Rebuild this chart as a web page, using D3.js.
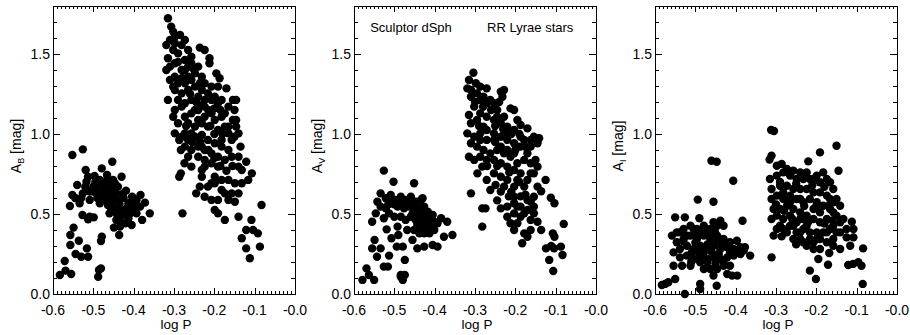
<!doctype html>
<html>
<head>
<meta charset="utf-8">
<title>Sculptor dSph RR Lyrae amplitudes</title>
<script src="https://d3js.org/d3.v7.min.js"></script>
<style>
  body { margin: 0; background: #fff; }
  svg text { font-family: "Liberation Sans", Arial, Helvetica, sans-serif; fill: #000; }
</style>
</head>
<body>
<svg id="chart" width="910" height="335"></svg>
<script>
// [log P, amplitude]
const ampB = [
  [-0.583,0.119],[-0.569,0.146],[-0.571,0.206],[-0.555,0.125],[-0.544,0.25],[-0.530,0.233],[-0.513,0.233],
  [-0.516,0.285],[-0.536,0.333],[-0.557,0.306],[-0.557,0.369],[-0.549,0.415],[-0.488,0.108],[-0.486,0.15],
  [-0.481,0.16],[-0.479,0.358],[-0.481,0.331],[-0.552,0.869],[-0.526,0.904],[-0.513,0.467],[-0.499,0.479],
  [-0.527,0.494],[-0.509,0.483],[-0.436,0.369],[-0.449,0.415],[-0.453,0.827],[-0.479,0.785],[-0.558,0.55],
  [-0.552,0.619],[-0.540,0.681],[-0.519,0.775],[-0.513,0.733],[-0.497,0.738],[-0.484,0.713],[-0.466,0.744],
  [-0.447,0.692],[-0.430,0.733],[-0.419,0.646],[-0.404,0.608],[-0.383,0.619],[-0.372,0.571],[-0.360,0.504],
  [-0.379,0.463],[-0.405,0.431],[-0.421,0.442],[-0.460,0.504],[-0.443,0.463],[-0.434,0.525],[-0.476,0.608],
  [-0.492,0.629],[-0.534,0.567],[-0.526,0.629],[-0.509,0.588],[-0.484,0.567],[-0.468,0.629],[-0.460,0.671],
  [-0.451,0.588],[-0.439,0.588],[-0.426,0.629],[-0.413,0.567],[-0.401,0.535],[-0.393,0.588],[-0.447,0.535],
  [-0.464,0.556],[-0.472,0.671],[-0.488,0.671],[-0.500,0.671],[-0.509,0.640],[-0.517,0.702],[-0.430,0.494],
  [-0.421,0.525],[-0.409,0.504],[-0.393,0.504],[-0.384,0.546],[-0.401,0.598],[-0.443,0.629],[-0.460,0.608],
  [-0.439,0.671],[-0.451,0.713],[-0.476,0.702],[-0.468,0.588],[-0.455,0.567],[-0.443,0.504],[-0.413,0.473],
  [-0.434,0.421],[-0.475,0.64],[-0.465,0.60],[-0.455,0.65],[-0.445,0.61],[-0.435,0.56],[-0.425,0.60],
  [-0.415,0.54],[-0.405,0.57],[-0.395,0.55],[-0.455,0.53],[-0.435,0.47],[-0.425,0.50],[-0.445,0.68],
  [-0.462,0.70],[-0.495,0.70],[-0.52,0.67],[-0.53,0.6],[-0.545,0.6],[-0.49,0.6],[-0.50,0.64],
  [-0.315,1.723],[-0.307,1.671],[-0.302,1.640],[-0.298,1.608],[-0.319,1.556],[-0.315,1.473],[-0.319,1.4],
  [-0.310,1.338],[-0.315,1.213],[-0.302,1.108],[-0.298,1.004],[-0.287,0.963],[-0.283,0.9],[-0.274,0.817],
  [-0.283,0.754],[-0.287,0.733],[-0.279,0.504],[-0.245,0.629],[-0.236,0.671],[-0.231,0.775],[-0.236,1.54],
  [-0.224,1.525],[-0.212,1.473],[-0.212,1.442],[-0.195,1.379],[-0.187,1.348],[-0.170,1.285],[-0.154,1.213],
  [-0.150,1.15],[-0.146,1.088],[-0.146,1.046],[-0.150,0.983],[-0.135,0.921],[-0.140,0.858],[-0.121,0.827],
  [-0.107,0.754],[-0.116,0.713],[-0.132,0.692],[-0.149,0.692],[-0.165,0.713],[-0.182,0.65],[-0.165,0.588],
  [-0.149,0.577],[-0.140,0.483],[-0.121,0.4],[-0.108,0.463],[-0.104,0.4],[-0.092,0.379],[-0.083,0.556],
  [-0.087,0.296],[-0.121,0.285],[-0.132,0.348],[-0.112,0.223],[-0.199,0.525],[-0.191,0.504],[-0.174,0.463],
  [-0.207,0.588],[-0.224,0.608],[-0.216,0.671],[-0.199,0.692],[-0.191,0.796],[-0.207,0.817],[-0.224,0.838],
  [-0.240,0.858],[-0.257,0.9],[-0.265,0.963],[-0.248,0.983],[-0.231,0.994],[-0.216,0.963],[-0.199,0.942],
  [-0.182,0.921],[-0.165,0.9],[-0.157,0.858],[-0.174,0.838],[-0.191,0.858],[-0.207,0.879],[-0.224,0.9],
  [-0.240,0.921],[-0.165,1.004],[-0.174,1.046],[-0.191,1.025],[-0.199,1.088],[-0.207,1.129],[-0.224,1.171],
  [-0.240,1.15],[-0.257,1.129],[-0.273,1.108],[-0.290,1.067],[-0.298,1.15],[-0.290,1.213],[-0.281,1.254],
  [-0.265,1.275],[-0.248,1.296],[-0.231,1.275],[-0.216,1.254],[-0.199,1.233],[-0.182,1.213],[-0.165,1.171],
  [-0.174,1.129],[-0.182,1.108],[-0.191,1.192],[-0.207,1.213],[-0.224,1.213],[-0.240,1.233],[-0.257,1.213],
  [-0.273,1.192],[-0.265,1.067],[-0.248,1.046],[-0.231,1.067],[-0.216,1.046],[-0.240,1.088],[-0.224,1.108],
  [-0.257,1.004],[-0.273,1.004],[-0.281,1.171],[-0.298,1.275],[-0.298,1.358],[-0.281,1.4],[-0.265,1.358],
  [-0.248,1.379],[-0.231,1.358],[-0.224,1.317],[-0.207,1.296],[-0.191,1.296],[-0.240,1.421],[-0.257,1.442],
  [-0.273,1.463],[-0.290,1.504],[-0.302,1.525],[-0.281,1.556],[-0.273,1.588],[-0.265,1.525],[-0.298,1.442],
  [-0.310,1.421],[-0.302,1.296],[-0.290,1.317],[-0.273,1.317],[-0.257,1.338],[-0.273,1.4],[-0.257,1.483],
  [-0.285,1.619],[-0.298,1.567],[-0.310,1.588],[-0.248,1.15],[-0.154,1.088],[-0.165,1.046],[-0.146,1.213],
  [-0.140,0.796],[-0.132,0.775],[-0.199,0.733],[-0.182,0.713],[-0.207,0.692],[-0.231,0.733],[-0.224,0.796],
  [-0.257,0.796],[-0.265,0.858],[-0.174,0.629],[-0.157,0.629],[-0.140,0.629],[-0.191,0.588],[-0.140,1.004],
  [-0.157,0.963],[-0.182,0.963],[-0.231,0.921],[-0.273,0.921],[-0.281,0.983],
  [-0.26,1.25],[-0.245,1.2],[-0.23,1.18],[-0.215,1.15],[-0.2,1.16],[-0.185,1.15],[-0.25,1.4],[-0.235,1.32],
  [-0.29,1.45],[-0.28,1.35],[-0.265,1.42],[-0.2,1.0],[-0.21,1.05],[-0.18,1.0],[-0.27,1.05],[-0.255,0.95],
  [-0.235,0.95],[-0.215,0.9],[-0.2,0.85],[-0.185,0.8],[-0.17,0.77],[-0.155,0.8]
];

const ampV = [
  [-0.579,0.088],[-0.569,0.16],[-0.563,0.119],[-0.550,0.088],[-0.549,0.338],[-0.555,0.285],[-0.543,0.233],
  [-0.534,0.285],[-0.526,0.171],[-0.513,0.24],[-0.516,0.171],[-0.519,0.404],[-0.507,0.348],[-0.494,0.296],
  [-0.490,0.369],[-0.479,0.296],[-0.474,0.213],[-0.484,0.119],[-0.479,0.088],[-0.474,0.119],[-0.484,0.108],
  [-0.443,0.285],[-0.426,0.296],[-0.405,0.306],[-0.393,0.296],[-0.377,0.358],[-0.356,0.369],[-0.369,0.452],
  [-0.384,0.473],[-0.526,0.771],[-0.502,0.702],[-0.451,0.692],[-0.555,0.452],[-0.546,0.504],[-0.542,0.577],
  [-0.534,0.629],[-0.521,0.598],[-0.509,0.619],[-0.498,0.588],[-0.484,0.608],[-0.472,0.588],[-0.459,0.608],
  [-0.447,0.577],[-0.434,0.588],[-0.430,0.598],[-0.534,0.546],[-0.521,0.535],[-0.509,0.567],[-0.492,0.546],
  [-0.476,0.535],[-0.464,0.546],[-0.451,0.525],[-0.439,0.535],[-0.426,0.546],[-0.417,0.515],[-0.405,0.494],
  [-0.401,0.452],[-0.417,0.463],[-0.434,0.483],[-0.447,0.463],[-0.459,0.483],[-0.472,0.463],[-0.484,0.483],
  [-0.492,0.421],[-0.451,0.4],[-0.434,0.421],[-0.422,0.4],[-0.413,0.379],[-0.401,0.4],[-0.393,0.442],
  [-0.426,0.379],[-0.438,0.379],[-0.455,0.338],[-0.468,0.4],[-0.500,0.483],[-0.513,0.504],[-0.526,0.473],
  [-0.447,0.504],[-0.413,0.483],[-0.430,0.442],[-0.443,0.431],[-0.475,0.56],[-0.46,0.57],[-0.445,0.56],
  [-0.43,0.52],[-0.42,0.49],[-0.44,0.46],[-0.425,0.44],[-0.41,0.43],[-0.455,0.5],[-0.5,0.56],[-0.515,0.56],
  [-0.49,0.57],[-0.42,0.41],
  [-0.304,1.383],[-0.315,1.338],[-0.319,1.285],[-0.310,1.275],[-0.298,1.317],[-0.287,1.296],[-0.271,1.285],
  [-0.236,1.265],[-0.228,1.275],[-0.232,1.233],[-0.310,1.233],[-0.302,1.171],[-0.315,1.119],[-0.310,1.067],
  [-0.319,1.004],[-0.310,0.942],[-0.315,0.858],[-0.310,0.629],[-0.282,0.421],[-0.282,0.535],[-0.274,0.535],
  [-0.294,0.754],[-0.282,0.796],[-0.271,0.838],[-0.245,1.15],[-0.212,1.16],[-0.203,1.15],[-0.195,1.088],
  [-0.187,1.056],[-0.170,1.035],[-0.154,0.983],[-0.141,0.973],[-0.145,0.942],[-0.162,0.921],[-0.150,0.838],
  [-0.162,0.817],[-0.145,0.796],[-0.154,0.754],[-0.125,0.713],[-0.145,0.671],[-0.136,0.642],[-0.154,0.608],
  [-0.162,0.577],[-0.170,0.525],[-0.154,0.504],[-0.145,0.452],[-0.136,0.4],[-0.124,0.285],[-0.116,0.213],
  [-0.107,0.379],[-0.103,0.358],[-0.112,0.602],[-0.103,0.567],[-0.111,0.3],[-0.104,0.285],[-0.087,0.296],
  [-0.083,0.244],[-0.080,0.438],[-0.106,0.144],[-0.187,0.483],[-0.195,0.442],[-0.178,0.379],[-0.170,0.358],
  [-0.162,0.4],[-0.183,0.317],[-0.203,0.4],[-0.212,0.442],[-0.220,0.483],[-0.236,0.535],[-0.245,0.585],
  [-0.236,0.64],[-0.249,0.681],[-0.262,0.65],[-0.228,0.671],[-0.216,0.61],[-0.203,0.567],[-0.195,0.546],
  [-0.203,0.504],[-0.220,0.546],[-0.187,0.61],[-0.178,0.671],[-0.170,0.713],[-0.187,0.754],[-0.203,0.775],
  [-0.220,0.796],[-0.236,0.817],[-0.253,0.838],[-0.262,0.879],[-0.279,0.9],[-0.295,0.921],[-0.302,0.983],
  [-0.287,1.004],[-0.271,1.025],[-0.253,1.004],[-0.236,0.983],[-0.220,0.963],[-0.203,0.942],[-0.187,0.921],
  [-0.170,0.879],[-0.178,0.838],[-0.195,0.817],[-0.212,0.858],[-0.228,0.879],[-0.245,0.9],[-0.236,0.921],
  [-0.220,0.9],[-0.203,0.879],[-0.187,0.983],[-0.203,1.025],[-0.220,1.046],[-0.236,1.067],[-0.253,1.088],
  [-0.271,1.108],[-0.287,1.129],[-0.295,1.088],[-0.279,1.046],[-0.262,1.213],[-0.253,1.192],[-0.271,1.192],
  [-0.287,1.213],[-0.295,1.254],[-0.279,1.233],[-0.245,1.108],[-0.228,1.108],[-0.220,1.004],[-0.253,0.963],
  [-0.271,0.963],[-0.287,0.963],[-0.302,0.838],[-0.287,0.858],[-0.253,0.754],[-0.236,0.733],[-0.220,0.713],
  [-0.203,0.671],[-0.195,0.713],[-0.162,0.754],[-0.170,0.588],[-0.154,0.546],[-0.187,0.546],[-0.162,0.463],
  [-0.178,0.504],[-0.203,0.608],[-0.271,0.713],[-0.195,0.921],[-0.178,0.963],[-0.162,0.963],
  [-0.26,1.15],[-0.25,1.05],[-0.23,1.03],[-0.21,1.0],[-0.19,1.0],[-0.175,0.92],[-0.2,0.9],[-0.25,0.95],
  [-0.27,0.8],[-0.245,0.8],[-0.215,0.76],[-0.19,0.7],[-0.175,0.62],[-0.21,0.64],[-0.3,1.2],[-0.28,1.17],
  [-0.24,1.2],[-0.29,1.05]
];

const ampI = [
  [-0.583,0.056],[-0.575,0.063],[-0.567,0.073],[-0.550,0.094],[-0.526,0.0],[-0.488,0.063],[-0.488,0.031],
  [-0.447,0.052],[-0.550,0.479],[-0.526,0.479],[-0.494,0.59],[-0.455,0.577],[-0.490,0.473],[-0.460,0.833],
  [-0.447,0.827],[-0.406,0.708],[-0.383,0.458],[-0.377,0.292],[-0.364,0.24],[-0.558,0.365],[-0.546,0.385],
  [-0.529,0.406],[-0.512,0.427],[-0.496,0.406],[-0.479,0.427],[-0.463,0.406],[-0.446,0.427],[-0.430,0.427],
  [-0.438,0.458],[-0.455,0.448],[-0.546,0.323],[-0.529,0.344],[-0.512,0.365],[-0.496,0.344],[-0.479,0.365],
  [-0.463,0.344],[-0.446,0.365],[-0.430,0.344],[-0.414,0.323],[-0.397,0.333],[-0.554,0.26],[-0.538,0.281],
  [-0.521,0.302],[-0.504,0.281],[-0.488,0.302],[-0.471,0.281],[-0.455,0.302],[-0.438,0.281],[-0.421,0.292],
  [-0.405,0.281],[-0.388,0.292],[-0.388,0.25],[-0.405,0.24],[-0.421,0.229],[-0.438,0.219],[-0.455,0.229],
  [-0.471,0.219],[-0.488,0.229],[-0.504,0.219],[-0.521,0.24],[-0.538,0.229],[-0.554,0.177],[-0.533,0.177],
  [-0.512,0.177],[-0.488,0.198],[-0.479,0.156],[-0.463,0.156],[-0.446,0.156],[-0.430,0.177],[-0.414,0.177],
  [-0.396,0.115],[-0.409,0.115],[-0.421,0.125],[-0.455,0.115],[-0.538,0.385],[-0.521,0.365],[-0.504,0.406],
  [-0.488,0.385],[-0.471,0.385],[-0.451,0.385],[-0.438,0.323],[-0.414,0.26],[-0.397,0.26],[-0.380,0.271],
  [-0.509,0.26],[-0.492,0.26],[-0.479,0.26],[-0.459,0.26],[-0.442,0.25],[-0.53,0.33],[-0.5,0.32],[-0.47,0.31],
  [-0.445,0.33],[-0.425,0.31],[-0.51,0.2],[-0.47,0.2],[-0.43,0.2],[-0.45,0.19],[-0.5,0.37],[-0.465,0.365],
  [-0.312,1.025],[-0.305,1.019],[-0.311,0.865],[-0.316,0.84],[-0.191,0.885],[-0.150,0.927],[-0.145,0.77],
  [-0.220,0.829],[-0.311,0.229],[-0.286,0.36],[-0.216,0.146],[-0.201,0.094],[-0.195,0.219],[-0.171,0.183],
  [-0.168,0.256],[-0.121,0.181],[-0.109,0.188],[-0.096,0.198],[-0.088,0.177],[-0.084,0.285],[-0.085,0.063],
  [-0.112,0.452],[-0.108,0.406],[-0.108,0.354],[-0.125,0.354],[-0.116,0.302],[-0.141,0.281],[-0.141,0.448],
  [-0.158,0.51],[-0.150,0.594],[-0.158,0.656],[-0.166,0.698],[-0.174,0.719],[-0.183,0.76],[-0.199,0.74],
  [-0.216,0.719],[-0.232,0.719],[-0.249,0.719],[-0.265,0.74],[-0.282,0.76],[-0.298,0.74],[-0.315,0.719],
  [-0.311,0.656],[-0.311,0.594],[-0.306,0.531],[-0.311,0.469],[-0.298,0.406],[-0.306,0.365],[-0.282,0.406],
  [-0.265,0.427],[-0.249,0.385],[-0.240,0.344],[-0.224,0.302],[-0.207,0.323],[-0.191,0.344],[-0.174,0.323],
  [-0.158,0.344],[-0.150,0.385],[-0.166,0.406],[-0.183,0.385],[-0.199,0.385],[-0.216,0.385],[-0.232,0.406],
  [-0.249,0.448],[-0.265,0.49],[-0.282,0.469],[-0.290,0.531],[-0.273,0.552],[-0.257,0.531],[-0.240,0.51],
  [-0.224,0.49],[-0.207,0.469],[-0.191,0.448],[-0.174,0.469],[-0.166,0.531],[-0.183,0.552],[-0.199,0.573],
  [-0.216,0.594],[-0.232,0.573],[-0.249,0.594],[-0.265,0.615],[-0.282,0.635],[-0.298,0.615],[-0.290,0.677],
  [-0.273,0.677],[-0.257,0.656],[-0.240,0.656],[-0.224,0.656],[-0.207,0.635],[-0.191,0.635],[-0.174,0.615],
  [-0.166,0.594],[-0.298,0.802],[-0.286,0.813],[-0.273,0.781],[-0.257,0.771],[-0.240,0.76],[-0.224,0.76],
  [-0.207,0.719],[-0.191,0.698],[-0.298,0.49],[-0.290,0.427],[-0.273,0.385],[-0.257,0.344],[-0.240,0.385],
  [-0.232,0.469],[-0.207,0.531],[-0.191,0.51],[-0.158,0.427],[-0.141,0.385],[-0.125,0.406],[-0.133,0.469],
  [-0.150,0.49],[-0.158,0.573],[-0.141,0.552],[-0.174,0.385],[-0.199,0.344],[-0.216,0.344],[-0.232,0.323],
  [-0.207,0.281],[-0.191,0.281],[-0.158,0.302],[-0.240,0.594],[-0.265,0.573],[-0.240,0.469],[-0.224,0.427],
  [-0.257,0.427],[-0.282,0.594],[-0.29,0.7],[-0.25,0.69],[-0.21,0.68],[-0.18,0.67],[-0.27,0.58],[-0.23,0.55],
  [-0.2,0.55],[-0.17,0.55],[-0.26,0.47],[-0.22,0.45],[-0.18,0.44],[-0.16,0.46],[-0.25,0.31],[-0.28,0.52],
  [-0.3,0.56]
];

const bands = ['B', 'V', 'I'];
const series = [ampB, ampV, ampI];
const xTicks = [-0.6, -0.5, -0.4, -0.3, -0.2, -0.1, 0.0];
const yTicks = [0.0, 0.5, 1.0, 1.5];
const xTitle = 'log P';
const notes = [['Sculptor dSph', -0.56], ['RR Lyrae stars', -0.27]];

const svg = d3.select('#chart');
const panelLeft = [53, 354, 655];
const pw = 242, plotTop = 6, plotBottom = 294;

const fmt = d => (d === 0 ? '-0.0' : d3.format('.1f')(d).replace('−', '-'));

panelLeft.forEach((left, i) => {
  const x = d3.scaleLinear().domain([-0.6, 0.0]).range([left, left + pw]);
  const y = d3.scaleLinear().domain([0, 1.8]).range([plotBottom, plotTop]);
  const g = svg.append('g');

  // points
  g.append('g').selectAll('circle')
    .data(series[i])
    .join('circle')
    .attr('cx', d => x(d[0]))
    .attr('cy', d => y(d[1]))
    .attr('r', 4.2)
    .attr('fill', '#000');

  // frame
  g.append('rect')
    .attr('x', left + 0.5).attr('y', plotTop + 0.5)
    .attr('width', pw).attr('height', plotBottom - plotTop)
    .attr('fill', 'none').attr('stroke', '#000').attr('stroke-width', 1);

  // IDL style inward ticks on all four sides
  const xMinor = d3.range(0, 61).map(k => -0.6 + k * 0.01);
  const yMinor = d3.range(0, 19).map(k => k * 0.1);
  const ticks = g.append('g').attr('stroke', '#000').attr('stroke-width', 1);
  xMinor.forEach((v, k) => {
    const len = k % 10 === 0 ? 6 : 3;
    const px = Math.round(x(v)) + 0.5;
    ticks.append('line').attr('x1', px).attr('x2', px).attr('y1', plotBottom).attr('y2', plotBottom - len);
    ticks.append('line').attr('x1', px).attr('x2', px).attr('y1', plotTop).attr('y2', plotTop + len);
  });
  yMinor.forEach((v, k) => {
    const len = k % 5 === 0 ? 7 : 4;
    const py = Math.round(y(v)) + 0.5;
    ticks.append('line').attr('x1', left).attr('x2', left + len).attr('y1', py).attr('y2', py);
    ticks.append('line').attr('x1', left + pw).attr('x2', left + pw - len).attr('y1', py).attr('y2', py);
  });

  // tick labels
  g.append('g').selectAll('text')
    .data(xTicks)
    .join('text')
    .attr('x', d => x(d))
    .attr('y', 315)
    .attr('text-anchor', 'middle')
    .attr('font-size', 14)
    .text(fmt);
  g.append('g').selectAll('text')
    .data(yTicks)
    .join('text')
    .attr('x', left - 3)
    .attr('y', d => y(d) + 5)
    .attr('text-anchor', 'end')
    .attr('font-size', 14)
    .text(d => d3.format('.1f')(d));

  // axis titles
  g.append('text')
    .attr('x', left + pw / 2 + 2)
    .attr('y', 329)
    .attr('text-anchor', 'middle')
    .attr('font-size', 13.5)
    .text(xTitle);

  const yt = g.append('text')
    .attr('transform', `translate(${left - 32},146) rotate(-90)`)
    .attr('text-anchor', 'middle')
    .attr('font-size', 14);
  yt.append('tspan').text('A');
  yt.append('tspan').attr('font-size', 9).attr('dy', 3).text(bands[i]);
  yt.append('tspan').attr('dy', -3).text(' [mag]');

  if (i === 1) {
    g.append('g').selectAll('text')
      .data(notes)
      .join('text')
      .attr('x', d => x(d[1]))
      .attr('y', 32)
      .attr('font-size', 13)
      .text(d => d[0]);
  }
});
</script>
</body>
</html>
